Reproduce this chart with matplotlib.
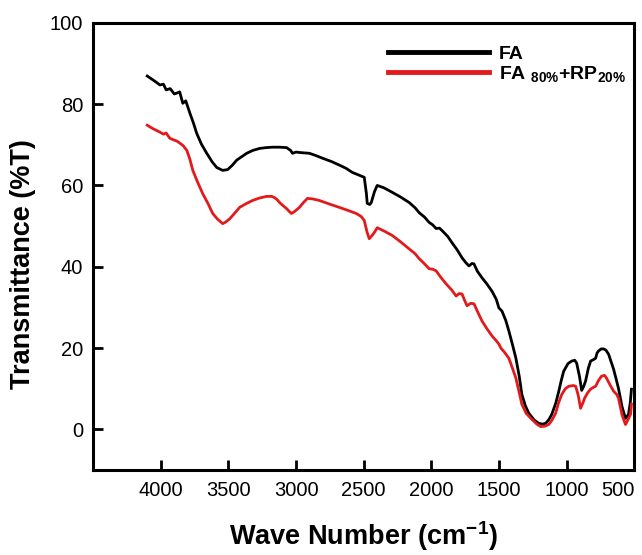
import numpy as np
import matplotlib
matplotlib.use("Agg")
import matplotlib.pyplot as plt

plt.rcParams["font.family"] = ["Liberation Sans", "DejaVu Sans"]
plt.rcParams["mathtext.fontset"] = "custom"
plt.rcParams["mathtext.rm"] = "Liberation Sans:bold"
plt.rcParams["mathtext.bf"] = "Liberation Sans:bold"
plt.rcParams["mathtext.it"] = "Liberation Sans:bold"

# ---- data ----
fa_wn = [4100, 4060, 4030, 4006, 3980, 3960, 3930, 3900, 3881, 3860, 3837, 3815,
         3785, 3760, 3734, 3700, 3660, 3620, 3586, 3542, 3505, 3470, 3439, 3400,
         3365, 3320, 3269, 3220, 3174, 3120, 3070, 3040, 3026, 3000, 2975, 2940,
         2901, 2850, 2805, 2740, 2680, 2630, 2584, 2540, 2496, 2480, 2474, 2455,
         2444, 2420, 2400, 2350, 2289, 2230, 2164, 2120, 2090, 2050, 2016, 1990,
         1965, 1940, 1921, 1880, 1847, 1810, 1773, 1745, 1722, 1700, 1685, 1660,
         1626, 1590, 1552, 1520, 1501, 1478, 1450, 1427, 1400, 1375, 1350, 1331,
         1305, 1280, 1240, 1206, 1180, 1154, 1130, 1110, 1080, 1058, 1040, 1022,
         990, 963, 940, 926, 905, 889, 875, 860, 840, 823, 800, 786, 775, 764,
         745, 727, 710, 690, 670, 653, 635, 617, 590, 565, 543, 530, 521]
fa_t = [86.9, 86.0, 85.3, 84.7, 84.9, 83.5, 83.8, 82.5, 82.7, 83.0, 80.2, 80.8,
        77.8, 75.5, 72.8, 70.2, 67.9, 65.8, 64.4, 63.7, 63.9, 65.0, 66.2, 67.1,
        67.9, 68.6, 69.1, 69.3, 69.4, 69.4, 69.3, 68.6, 67.9, 68.2, 68.1, 68.0,
        67.9, 67.3, 66.7, 65.9, 65.0, 64.2, 63.2, 62.6, 62.0, 58.0, 55.6, 55.3,
        55.8, 58.5, 60.0, 59.4, 58.3, 57.2, 55.8, 54.5, 53.3, 52.2, 50.9, 50.3,
        49.4, 49.5, 48.9, 47.5, 45.9, 44.2, 42.2, 41.0, 40.2, 40.8, 40.7, 38.9,
        37.3, 35.8, 34.0, 32.0, 29.9, 29.1, 26.8, 24.2, 20.8, 17.5, 13.0, 8.6,
        5.8, 4.0, 2.3, 1.5, 1.3, 1.5, 2.5, 3.7, 6.5, 9.4, 12.0, 14.3,
        16.2, 16.8, 17.0, 16.3, 13.0, 9.6, 10.5, 11.9, 15.0, 16.8, 17.2, 17.5, 18.8, 19.3,
        19.8, 19.8, 19.5, 18.5, 16.5, 14.8, 12.5, 10.1, 5.5, 2.7, 3.7, 6.5, 9.9]

mix_wn = [4100, 4060, 4030, 4006, 3980, 3960, 3933, 3905, 3880, 3859, 3835, 3807,
          3785, 3763, 3730, 3690, 3650, 3616, 3580, 3542, 3520, 3490, 3450, 3417,
          3370, 3321, 3270, 3218, 3180, 3159, 3140, 3122, 3095, 3070, 3050, 3034,
          3010, 2975, 2945, 2916, 2880, 2828, 2760, 2680, 2620, 2555, 2520, 2496,
          2475, 2459, 2440, 2422, 2400, 2350, 2289, 2230, 2164, 2120, 2090, 2050,
          2016, 1990, 1965, 1930, 1891, 1850, 1817, 1795, 1773, 1755, 1736, 1710,
          1685, 1655, 1626, 1590, 1552, 1520, 1501, 1486, 1460, 1427, 1400, 1375,
          1350, 1331, 1300, 1258, 1220, 1192, 1160, 1133, 1110, 1081, 1060, 1036,
          1010, 985, 950, 933, 915, 897, 880, 867, 845, 823, 800, 786, 765, 742,
          720, 705, 680, 653, 630, 617, 590, 565, 545, 528, 521]
mix_t = [74.8, 74.0, 73.5, 73.1, 72.6, 72.9, 71.6, 71.2, 70.9, 70.4, 69.8, 68.6,
         66.5, 63.7, 61.0, 58.0, 55.5, 53.1, 51.7, 50.6, 51.0, 51.8, 53.3, 54.6,
         55.5, 56.3, 56.9, 57.3, 57.3, 57.0, 56.5, 55.8, 55.0, 54.3, 53.6, 53.1,
         53.6, 54.6, 55.8, 56.8, 56.7, 56.3, 55.5, 54.6, 53.9, 53.1, 52.4, 51.4,
         48.5, 46.9, 47.6, 48.4, 49.6, 48.8, 47.7, 46.2, 44.4, 43.2, 42.0, 40.7,
         39.5, 39.4, 39.0, 37.4, 35.8, 34.3, 32.8, 33.4, 33.3, 31.8, 30.4, 31.0,
         30.9, 28.7, 26.7, 24.8, 23.0, 21.8, 21.0, 20.0, 19.0, 17.5, 15.0, 12.6,
         9.0, 6.2, 4.0, 2.5, 1.3, 0.7, 0.8, 1.2, 2.2, 4.0, 6.5, 8.6,
         10.0, 10.6, 10.8, 10.6, 8.5, 5.2, 6.5, 7.7, 9.0, 9.9, 10.4, 10.6, 12.0, 13.1,
         13.3, 12.6, 11.0, 9.4, 8.6, 7.7, 3.5, 1.2, 2.5, 3.7, 6.2]

x_ticks = [4000, 3500, 3000, 2500, 2000, 1500, 1000, 500]
y_ticks = [0, 20, 40, 60, 80, 100]

fig = plt.figure(figsize=(6.42, 5.55), dpi=100)
ax = fig.add_axes([0.145, 0.153, 0.843, 0.806])

ax.plot(fa_wn, fa_t, color="black", lw=2.0, label="FA")
ax.plot(mix_wn, mix_t, color="#e31a1c", lw=2.0,
        label=r"FA $_{80\%}$+RP$_{20\%}$")

ax.set_xlim(4500, 500)
ax.set_ylim(-10, 100)
ax.set_xticks(x_ticks)
ax.set_yticks(y_ticks)
ax.tick_params(direction="in", length=7, width=2, labelsize=14.5, pad=8)
ax.tick_params(axis="y", pad=7)
for s in ax.spines.values():
    s.set_linewidth(2.2)

# last x label sits against the right edge, as in the original
fig.canvas.draw()
ax.get_xticklabels()[-1].set_horizontalalignment("right")

ax.set_xlabel(r"Wave Number (cm$^{-1}$)", fontsize=19.5, fontweight="bold", labelpad=14)
ax.set_ylabel("Transmittance (%T)", fontsize=19.5, fontweight="bold")
ax.yaxis.set_label_coords(-0.105, 0.46)

leg = ax.legend(loc="upper left", bbox_to_anchor=(0.545, 0.95), frameon=False,
                prop={"weight": "bold", "size": 14}, handlelength=5.2,
                handletextpad=0.5, labelspacing=0.05, borderpad=0, borderaxespad=0)
for h in leg.get_lines():
    h.set_linewidth(3.5)

fig.savefig("out.png", dpi=100)
